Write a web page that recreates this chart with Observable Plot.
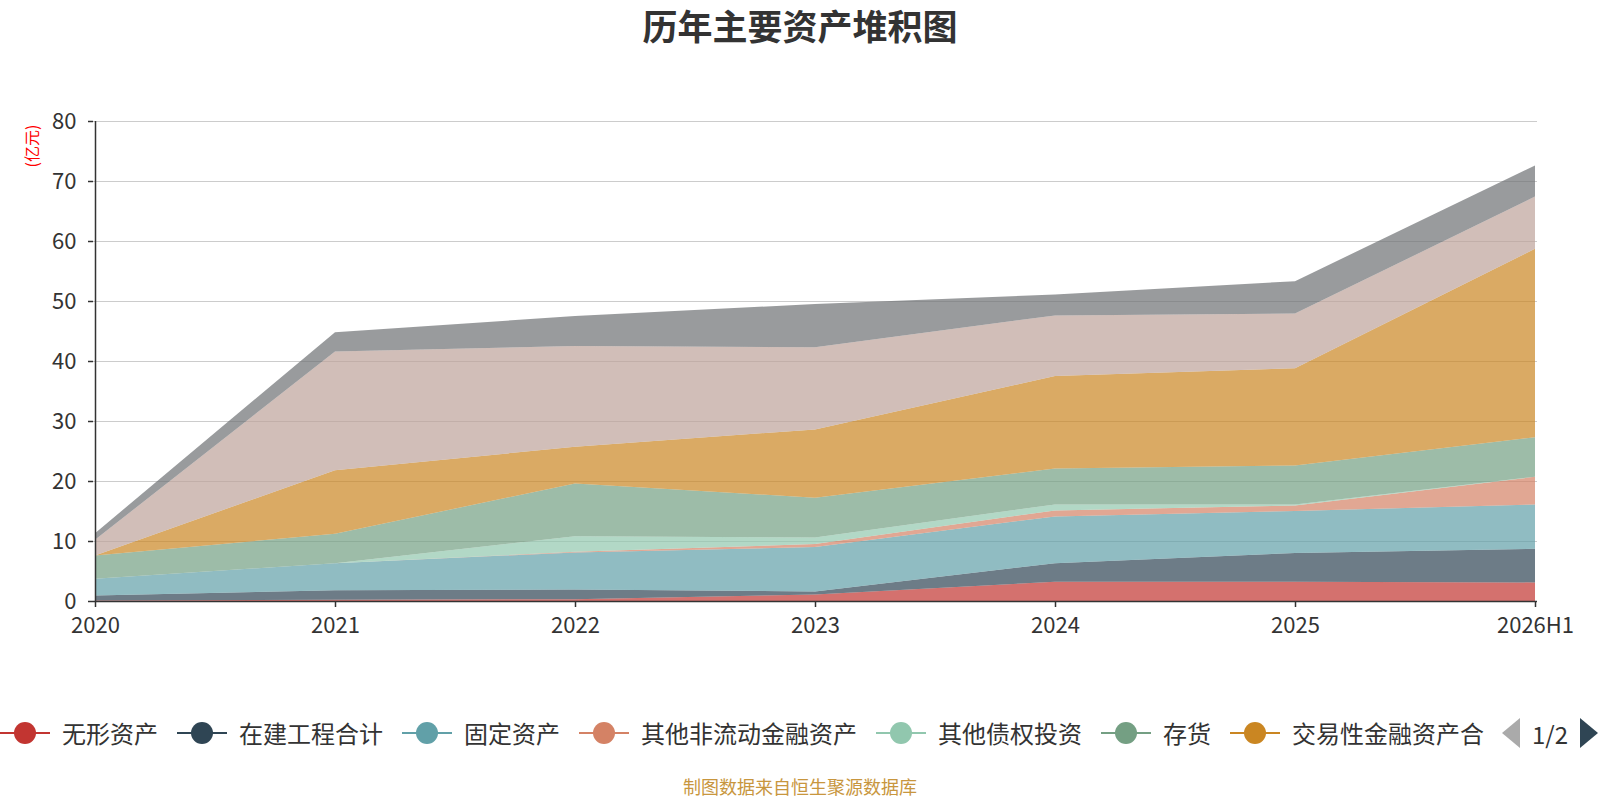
<!DOCTYPE html>
<html>
<head>
<meta charset="utf-8">
<script src="https://cdn.jsdelivr.net/npm/d3@7"></script>
<script src="https://cdn.jsdelivr.net/npm/@observablehq/plot@0.6"></script>
<style>
  body { margin: 0; background: #fff; font-family: "Noto Sans CJK SC", sans-serif; }
  #wrap { position: relative; width: 1600px; height: 800px; overflow: hidden; background: #fff; }
  #title { position: absolute; top: 2px; left: 0; width: 1600px; text-align: center; font-size: 35px; font-weight: bold; color: #333; line-height: 46px; }
  #chart { position: absolute; top: 0; left: 0; }
  #unit { position: absolute; left: 31px; top: 146px; transform: translate(-50%, -50%) rotate(-90deg); color: #ff0000; font-size: 16px; white-space: nowrap; }
  #legend { position: absolute; left: 0; top: 717px; height: 32px; display: flex; align-items: center; gap: 19px; }
  .item { display: flex; align-items: center; gap: 12px; font-size: 24px; color: #333; white-space: nowrap; line-height: 32px; }
  #pager { position: absolute; left: 1502px; top: 717px; height: 32px; display: flex; align-items: center; font-size: 24px; color: #333; }
  #caption { position: absolute; top: 774px; left: 0; width: 1600px; text-align: center; font-size: 18px; color: #c8963e; line-height: 24px; }
</style>
</head>
<body>
<div id="wrap">
  <div id="title">历年主要资产堆积图</div>
  <div id="chart"></div>
  <div id="unit">(亿元)</div>
  <div id="legend"></div>
  <div id="pager"></div>
  <div id="caption">制图数据来自恒生聚源数据库</div>
</div>
<script>
// ---- data ----
const years = ["2020", "2021", "2022", "2023", "2024", "2025", "2026H1"];
const seriesNames = ["无形资产", "在建工程合计", "固定资产", "其他非流动金融资产", "其他债权投资", "存货", "交易性金融资产合", "货币资金", "应收账款"];
const legendShown = ["无形资产", "在建工程合计", "固定资产", "其他非流动金融资产", "其他债权投资", "存货", "交易性金融资产合"];
const colors = ["#c23531", "#2f4554", "#61a0a8", "#d48265", "#91c7ae", "#749f83", "#ca8622", "#bda29a", "#6e7074"];
const yTicks = [0, 10, 20, 30, 40, 50, 60, 70, 80];

const intangible   = [0.1, 0.2, 0.3, 1.1, 3.2, 3.2, 3.1];
const construction = [0.8, 1.6, 1.6, 0.5, 3.1, 4.8, 5.6];
const fixedAssets  = [2.8, 4.5, 6.2, 7.4, 7.8, 7.0, 7.4];
const otherNonCur  = [0.0, 0.0, 0.1, 0.5, 1.0, 0.9, 4.6];
const otherDebt    = [0.0, 0.0, 2.6, 1.1, 1.0, 0.2, 0.0];
const inventory    = [3.9, 4.9, 8.8, 6.6, 6.0, 6.5, 6.6];
const trading      = [0.0, 10.6, 6.1, 11.4, 15.4, 16.2, 31.4];
const cash         = [2.6, 19.8, 16.8, 13.7, 10.1, 9.1, 8.7];
const receivable   = [1.1, 3.2, 5.0, 7.2, 3.5, 5.4, 5.2];

const seriesValues = [intangible, construction, fixedAssets, otherNonCur, otherDebt, inventory, trading, cash, receivable];

const rows = [];
seriesNames.forEach((s, i) => years.forEach((y, j) => rows.push({year: y, series: s, value: seriesValues[i][j]})));

// ---- chart ----
const chart = Plot.plot({
  width: 1600,
  height: 660,
  marginTop: 121,
  marginBottom: 59,
  marginLeft: 93,
  marginRight: 63,
  style: {fontFamily: '"Noto Sans CJK SC", sans-serif', fontSize: "22px", color: "#333", background: "transparent"},
  x: {type: "point", domain: years, padding: 0, label: null},
  y: {domain: [0, 80], label: null},
  color: {domain: seriesNames, range: colors},
  marks: [
    Plot.gridY(yTicks.slice(1), {stroke: "#cccccc", strokeOpacity: 1, strokeWidth: 1}),
    Plot.areaY(rows, {x: "year", y: "value", z: "series", fill: "series", fillOpacity: 0.7, order: seriesNames}),
    Plot.axisY(yTicks, {tickSize: 5, tickPadding: 12, fontSize: 22, label: null, stroke: "#333", strokeWidth: 1.5}),
    Plot.axisX(years, {tickSize: 6, tickPadding: 10, fontSize: 22, label: null, stroke: "#333", strokeWidth: 1.5}),
    Plot.ruleY([0], {stroke: "#333", strokeWidth: 1.5}),
    Plot.ruleX([years[0]], {stroke: "#333", strokeWidth: 1.5})
  ]
});
document.getElementById("chart").appendChild(chart);

// ---- legend (page 1 of 2) ----
const legend = document.getElementById("legend");
legendShown.forEach(name => {
  const c = colors[seriesNames.indexOf(name)];
  const item = document.createElement("div");
  item.className = "item";
  item.innerHTML = `<svg width="50" height="26"><line x1="0" x2="50" y1="13" y2="13" stroke="${c}" stroke-width="2"/><circle cx="25" cy="13" r="11" fill="${c}"/></svg><span>${name}</span>`;
  legend.appendChild(item);
});
document.getElementById("pager").innerHTML =
  `<svg width="18" height="30"><polygon points="18,0 0,15 18,30" fill="#aaa"/></svg>` +
  `<span style="margin:0 12px">1/2</span>` +
  `<svg width="18" height="30"><polygon points="0,0 18,15 0,30" fill="#2f4554"/></svg>`;
</script>
</body>
</html>
